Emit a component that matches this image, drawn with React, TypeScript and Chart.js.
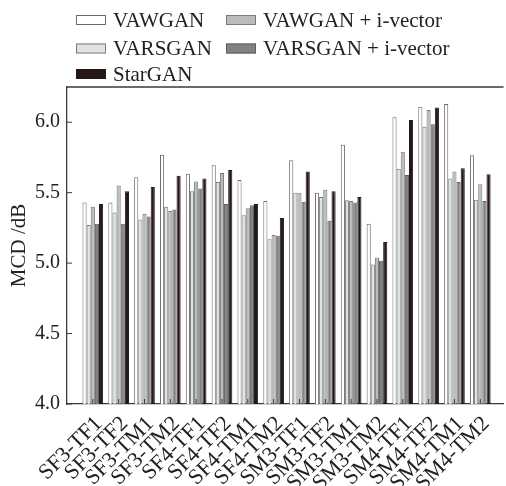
import React, { useEffect, useRef } from "react";
import { Chart, registerables } from "chart.js";
Chart.register(...registerables);

const categories = ["SF3-TF1", "SF3-TF2", "SF3-TM1", "SF3-TM2", "SF4-TF1", "SF4-TF2", "SF4-TM1", "SF4-TM2", "SM3-TF1", "SM3-TF2", "SM3-TM1", "SM3-TM2", "SM4-TF1", "SM4-TF2", "SM4-TM1", "SM4-TM2"];
const vawgan = [5.43, 5.43, 5.61, 5.77, 5.635, 5.695, 5.59, 5.44, 5.73, 5.5, 5.84, 5.28, 6.035, 6.11, 6.13, 5.766];
const varsgan = [5.27, 5.36, 5.31, 5.4, 5.51, 5.575, 5.34, 5.17, 5.5, 5.47, 5.447, 4.99, 5.67, 5.967, 5.6, 5.45];
const vawganIvec = [5.4, 5.55, 5.35, 5.37, 5.58, 5.64, 5.39, 5.2, 5.5, 5.52, 5.44, 5.04, 5.79, 6.087, 5.65, 5.56];
const varsganIvec = [5.28, 5.28, 5.33, 5.38, 5.53, 5.42, 5.41, 5.195, 5.435, 5.3, 5.43, 5.016, 5.626, 5.986, 5.575, 5.44];
const stargan = [5.42, 5.51, 5.54, 5.62, 5.6, 5.66, 5.42, 5.32, 5.65, 5.51, 5.47, 5.15, 6.016, 6.104, 5.674, 5.63];
const yTicks = [4.0, 4.5, 5.0, 5.5, 6.0];

const seriesNames = ["VAWGAN", "VARSGAN", "VAWGAN + i-vector", "VARSGAN + i-vector", "StarGAN"];
const seriesFill = ["#ffffff", "#e2e2e2", "#b9bbbc", "#808285", "#231815"];
const seriesBorder = ["#6a6a6a", "#7a7a7a", "#7a7a7a", "#606060", "#231815"];
// legend slots: [column, row] for each series
const legendSlots = [[0, 0], [0, 1], [1, 0], [1, 1], [0, 2]];

const FONT = "'Liberation Serif', 'Times New Roman', serif";
const AXIS = "#3a3a3a";

const decorPlugin = {
  id: "decor",
  afterDraw(chart: any) {
    const ctx = chart.ctx;
    const { left, right, top, bottom } = chart.chartArea;
    const xs = chart.scales.x;
    const ys = chart.scales.y;
    ctx.save();
    ctx.strokeStyle = AXIS;
    ctx.lineWidth = 1.3;
    ctx.beginPath();
    ctx.moveTo(left, top);
    ctx.lineTo(right, top);
    ctx.stroke();
    ctx.lineWidth = 1;
    ctx.beginPath();
    yTicks.forEach((v) => {
      const y = ys.getPixelForValue(v);
      ctx.moveTo(left, y);
      ctx.lineTo(left + 5, y);
    });
    categories.forEach((c, i) => {
      const x = xs.getPixelForValue(i);
      ctx.moveTo(x, bottom);
      ctx.lineTo(x, bottom - 5);
    });
    ctx.stroke();

    // legend
    const colX = [76, 226];
    const rowY = [20, 48.5, 74];
    ctx.font = "21px " + FONT;
    ctx.textBaseline = "middle";
    ctx.textAlign = "left";
    seriesNames.forEach((name, i) => {
      const [c, r] = legendSlots[i];
      const bx = colX[c];
      const by = rowY[r];
      ctx.fillStyle = seriesFill[i];
      ctx.fillRect(bx, by - 5, 30, 10);
      ctx.strokeStyle = seriesBorder[i];
      ctx.lineWidth = 1;
      ctx.strokeRect(bx + 0.5, by - 4.5, 29, 9);
      ctx.fillStyle = "#222";
      ctx.fillText(name, bx + 37, by + 1);
    });
    ctx.restore();
  },
};

export default function App() {
  const ref = useRef<HTMLCanvasElement | null>(null);
  useEffect(() => {
    if (!ref.current) return;
    const data = [vawgan, varsgan, vawganIvec, varsganIvec, stargan];
    const chart = new Chart(ref.current, {
      type: "bar",
      data: {
        labels: categories,
        datasets: seriesNames.map((n, i) => ({
          label: n,
          data: data[i],
          backgroundColor: seriesFill[i],
          borderColor: seriesBorder[i],
          borderWidth: 1,
          borderSkipped: "bottom",
          categoryPercentage: 0.8,
          barPercentage: 1.0,
        })),
      },
      options: {
        responsive: false,
        animation: false,
        layout: { padding: { top: 87, left: 0, right: 1, bottom: 0 } },
        plugins: { legend: { display: false }, tooltip: { enabled: false } },
        scales: {
          x: {
            type: "category",
            offset: true,
            grid: { display: false, drawTicks: false },
            border: { display: true, color: AXIS, width: 1.3 },
            ticks: {
              autoSkip: false,
              maxRotation: 45,
              minRotation: 45,
              padding: 7,
              labelOffset: 6,
              color: "#222",
              font: { family: FONT, size: 22 },
            },
            afterBuildTicks: (scale: any) => {
              scale._startValue = -1.0;
              scale._valueRange = categories.length + 0.9;
            },
            afterFit: (scale: any) => {
              scale.height = 82;
            },
          },
          y: {
            min: 4,
            max: 6.25,
            grid: { display: false, drawTicks: false },
            border: { display: true, color: AXIS, width: 1.3 },
            ticks: {
              stepSize: 0.5,
              includeBounds: false,
              padding: 7,
              color: "#222",
              font: { family: FONT, size: 20 },
              callback: (v: any) => Number(v).toFixed(1),
            },
            title: {
              display: true,
              text: "MCD /dB",
              color: "#222",
              font: { family: FONT, size: 21 },
              padding: { top: 7, bottom: 0 },
            },
            afterFit: (scale: any) => {
              scale.width = 67;
            },
          },
        },
      },
      plugins: [decorPlugin],
    });
    return () => chart.destroy();
  }, []);
  return (
    <div style={{ position: "absolute", left: 0, top: 0, width: 506, height: 486, background: "#fff" }}>
      <canvas ref={ref} width={506} height={486} style={{ display: "block" }} />
    </div>
  );
}
